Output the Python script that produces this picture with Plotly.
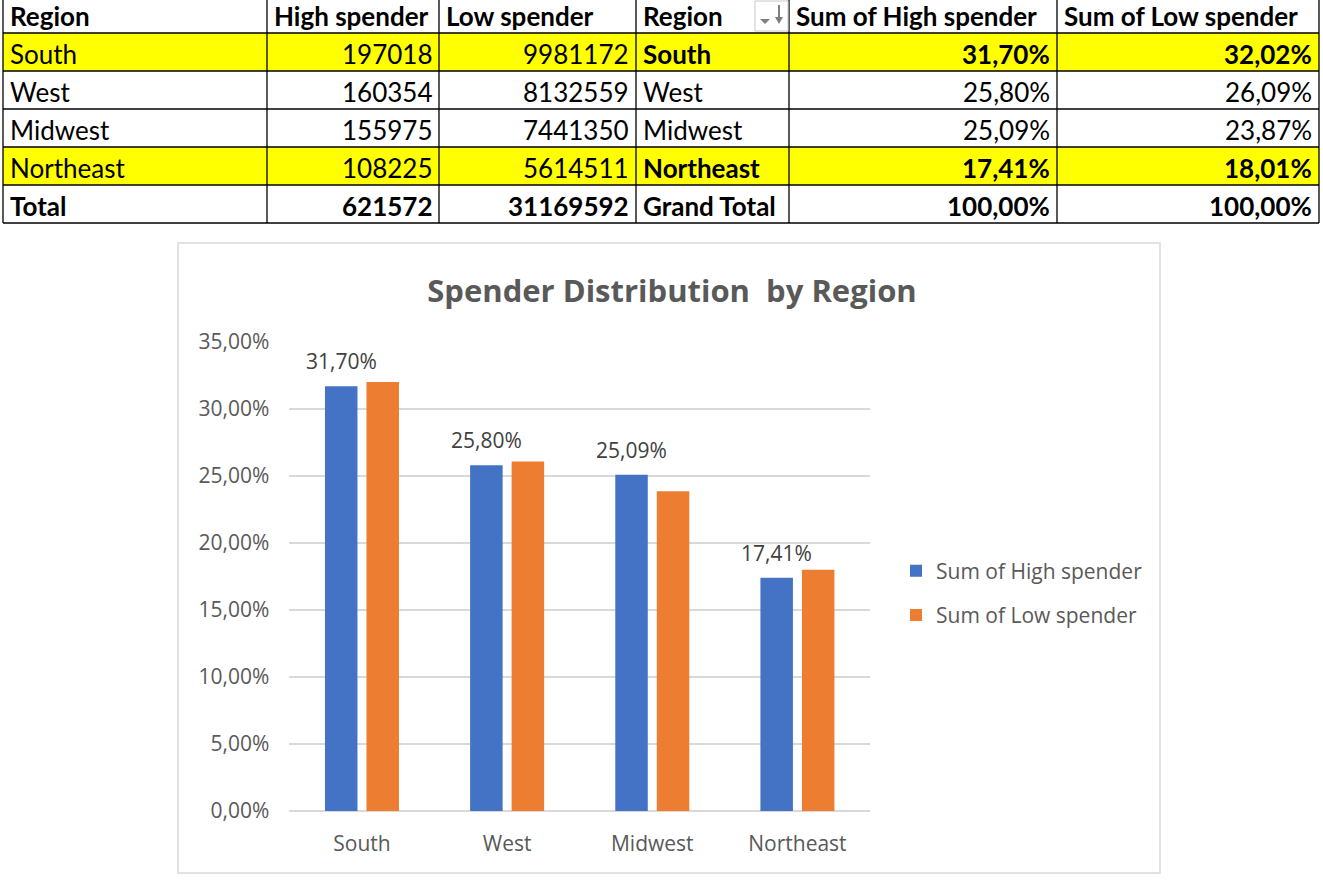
import plotly.graph_objects as go

# ---------------- data ----------------
regions = ["South", "West", "Midwest", "Northeast"]
high_counts = [197018, 160354, 155975, 108225]
low_counts = [9981172, 8132559, 7441350, 5614511]
high_total = 621572
low_total = 31169592
high_share = [31.70, 25.80, 25.09, 17.41]   # percent
low_share = [32.02, 26.09, 23.87, 18.01]    # percent
share_total = [100.00, 100.00]
highlight_rows = ["South", "Northeast"]

series_names = ["Sum of High spender", "Sum of Low spender"]
header = ["Region", "High spender", "Low spender", "Region", "Sum of High spender", "Sum of Low spender"]
y_ticks = [0, 5, 10, 15, 20, 25, 30, 35]

# ---------------- layout constants (pixels) ----------------
W, H = 1323, 880
TFONT = "Lato"
CFONT = "Open Sans"
TSIZE = 26
CSIZE = 21
col_edges = [3, 267, 439, 636, 789, 1057, 1319]
row_edges = [-5, 33, 71, 109, 147, 185, 223]
col_align = ["left", "right", "right", "left", "right", "right"]


def px(x):
    return x / W


def py(y):
    return 1 - y / H


def pct(v):
    return f"{v:.2f}".replace(".", ",") + "%"


def b(s, on=True):
    return f"<b>{s}</b>" if on else s


def path(points):
    return "M " + " L ".join(f"{px(x):.5f},{py(y):.5f}" for x, y in points) + " Z"


# ---------------- table contents ----------------
row_names = regions + ["Total"]
pivot_names = regions + ["Grand Total"]
hl = [r in highlight_rows for r in regions] + [False]
bold_left = [False] * 4 + [True]
bold_right = [r in highlight_rows for r in regions] + [True]

columns = [
    [b(n, bl) for n, bl in zip(row_names, bold_left)],
    [b(str(v), bl) for v, bl in zip(high_counts + [high_total], bold_left)],
    [b(str(v), bl) for v, bl in zip(low_counts + [low_total], bold_left)],
    [b(n, bl) for n, bl in zip(pivot_names, bold_right)],
    [b(pct(v), bl) for v, bl in zip(high_share + [share_total[0]], bold_right)],
    [b(pct(v), bl) for v, bl in zip(low_share + [share_total[1]], bold_right)],
]

shapes = []
annotations = []

# row highlight fills
for i, h in enumerate(hl):
    if h:
        shapes.append(dict(type="rect", xref="paper", yref="paper",
                           x0=px(col_edges[0]), x1=px(col_edges[-1]),
                           y0=py(row_edges[i + 2]), y1=py(row_edges[i + 1]),
                           fillcolor="#FFFF00", line=dict(width=0)))
# grid lines
for y in row_edges[1:]:
    shapes.append(dict(type="line", xref="paper", yref="paper",
                       x0=px(col_edges[0]), x1=px(col_edges[-1]), y0=py(y), y1=py(y),
                       line=dict(color="black", width=1.3)))
for x in col_edges:
    shapes.append(dict(type="line", xref="paper", yref="paper",
                       x0=px(x), x1=px(x), y0=py(row_edges[-1]), y1=1,
                       line=dict(color="black", width=1.3)))


def cell_text(text, ci, ri, align):
    left, right = col_edges[ci], col_edges[ci + 1]
    bottom = row_edges[ri + 1]
    if align == "left":
        x, xa = left + 5, "left"
    else:
        x, xa = right - 5, "right"
    annotations.append(dict(x=px(x), y=py(bottom - 17), xref="paper", yref="paper",
                            text=text, showarrow=False, xanchor=xa, yanchor="middle",
                            font=dict(family=TFONT, size=TSIZE, color="black")))


for ci, h in enumerate(header):
    cell_text(b(h), ci, 0, "left")
for ci, col in enumerate(columns):
    for ri, t in enumerate(col):
        cell_text(t, ci, ri + 1, col_align[ci])

# sort / filter icon in pivot header
ICON = "#7f7f7f"
shapes.append(dict(type="rect", xref="paper", yref="paper", x0=px(755), x1=px(788),
                   y0=py(31), y1=py(1), line=dict(color="#c8c8c8", width=1), fillcolor="white"))
shapes.append(dict(type="path", xref="paper", yref="paper",
                   path=path([(760, 19), (770, 19), (765, 24)]),
                   fillcolor=ICON, line=dict(width=0)))
shapes.append(dict(type="line", xref="paper", yref="paper",
                   x0=px(779), x1=px(779), y0=py(5), y1=py(19),
                   line=dict(color=ICON, width=2)))
shapes.append(dict(type="path", xref="paper", yref="paper",
                   path=path([(775, 17), (783, 17), (779, 24)]),
                   fillcolor=ICON, line=dict(width=0)))

# chart frame
shapes.append(dict(type="rect", xref="paper", yref="paper", x0=px(178), x1=px(1160),
                   y0=py(873), y1=py(243), line=dict(color="#d9d9d9", width=1.5), layer="below"))

# ---------------- bar chart ----------------
fig = go.Figure()
colors = ["#4472C4", "#ED7D31"]
for name, vals, col in zip(series_names, [high_share, low_share], colors):
    fig.add_trace(go.Bar(
        x=regions, y=[v / 100 for v in vals], name=name,
        marker=dict(color=col, line=dict(width=0)),
        legendgroup=name, hoverinfo="skip",
    ))

x_dom = [px(289.4), px(870)]
y_dom = [py(811), py(342)]

bargap = 0.428
bargroupgap = 0.217
cat_px = (x_dom[1] - x_dom[0]) * W / len(regions)
slot_px = cat_px * (1 - bargap) / 2

for r, v in zip(regions, high_share):
    annotations.append(dict(
        x=r, y=v / 100, xref="x", yref="y", text=pct(v), showarrow=False,
        xshift=-slot_px / 2, yshift=25, yanchor="middle",
        font=dict(family=CFONT, size=CSIZE, color="#404040"),
    ))

fig.update_layout(
    width=W, height=H,
    margin=dict(l=0, r=0, t=0, b=0, pad=0, autoexpand=False),
    paper_bgcolor="white", plot_bgcolor="white",
    separators=",.",
    font=dict(family=CFONT, color="#595959"),
    title=dict(
        text="Spender Distribution\u00a0 by Region",
        x=px(672), y=py(291), xanchor="center", yanchor="middle",
        xref="paper", yref="paper", automargin=False,
        font=dict(family=CFONT, size=31, color="#595959", weight="bold"),
    ),
    barmode="group", bargap=bargap, bargroupgap=bargroupgap,
    xaxis=dict(
        domain=x_dom, showgrid=False, showline=False, zeroline=False,
        tickfont=dict(family=CFONT, size=CSIZE, color="#595959"),
        ticks="", ticklabelstandoff=18, fixedrange=True, automargin=False,
    ),
    yaxis=dict(
        domain=y_dom, range=[0, 0.35], tickvals=[t / 100 for t in y_ticks],
        tickformat=".2%", showgrid=True, gridcolor="#d9d9d9", gridwidth=1.5,
        zeroline=True, zerolinecolor="#d9d9d9", zerolinewidth=1.5,
        showline=False, ticks="", ticklabelstandoff=19, automargin=False,
        tickfont=dict(family=CFONT, size=CSIZE, color="#595959"), fixedrange=True,
    ),
    legend=dict(
        x=px(896), y=py(593), xanchor="left", yanchor="middle",
        font=dict(family=CFONT, size=CSIZE, color="#595959"),
        tracegroupgap=14, bgcolor="rgba(0,0,0,0)",
    ),
    showlegend=True,
    shapes=shapes,
    annotations=annotations,
)

post = (
    "var g=document.getElementById('{plot_id}');"
    "g.style.position='fixed';g.style.left='0px';g.style.top='0px';"
    "document.documentElement.style.overflow='hidden';"
    "document.body.style.margin='0';document.body.style.overflow='hidden';"
)
fig.write_html("out.html", post_script=post, config={"displayModeBar": False})
